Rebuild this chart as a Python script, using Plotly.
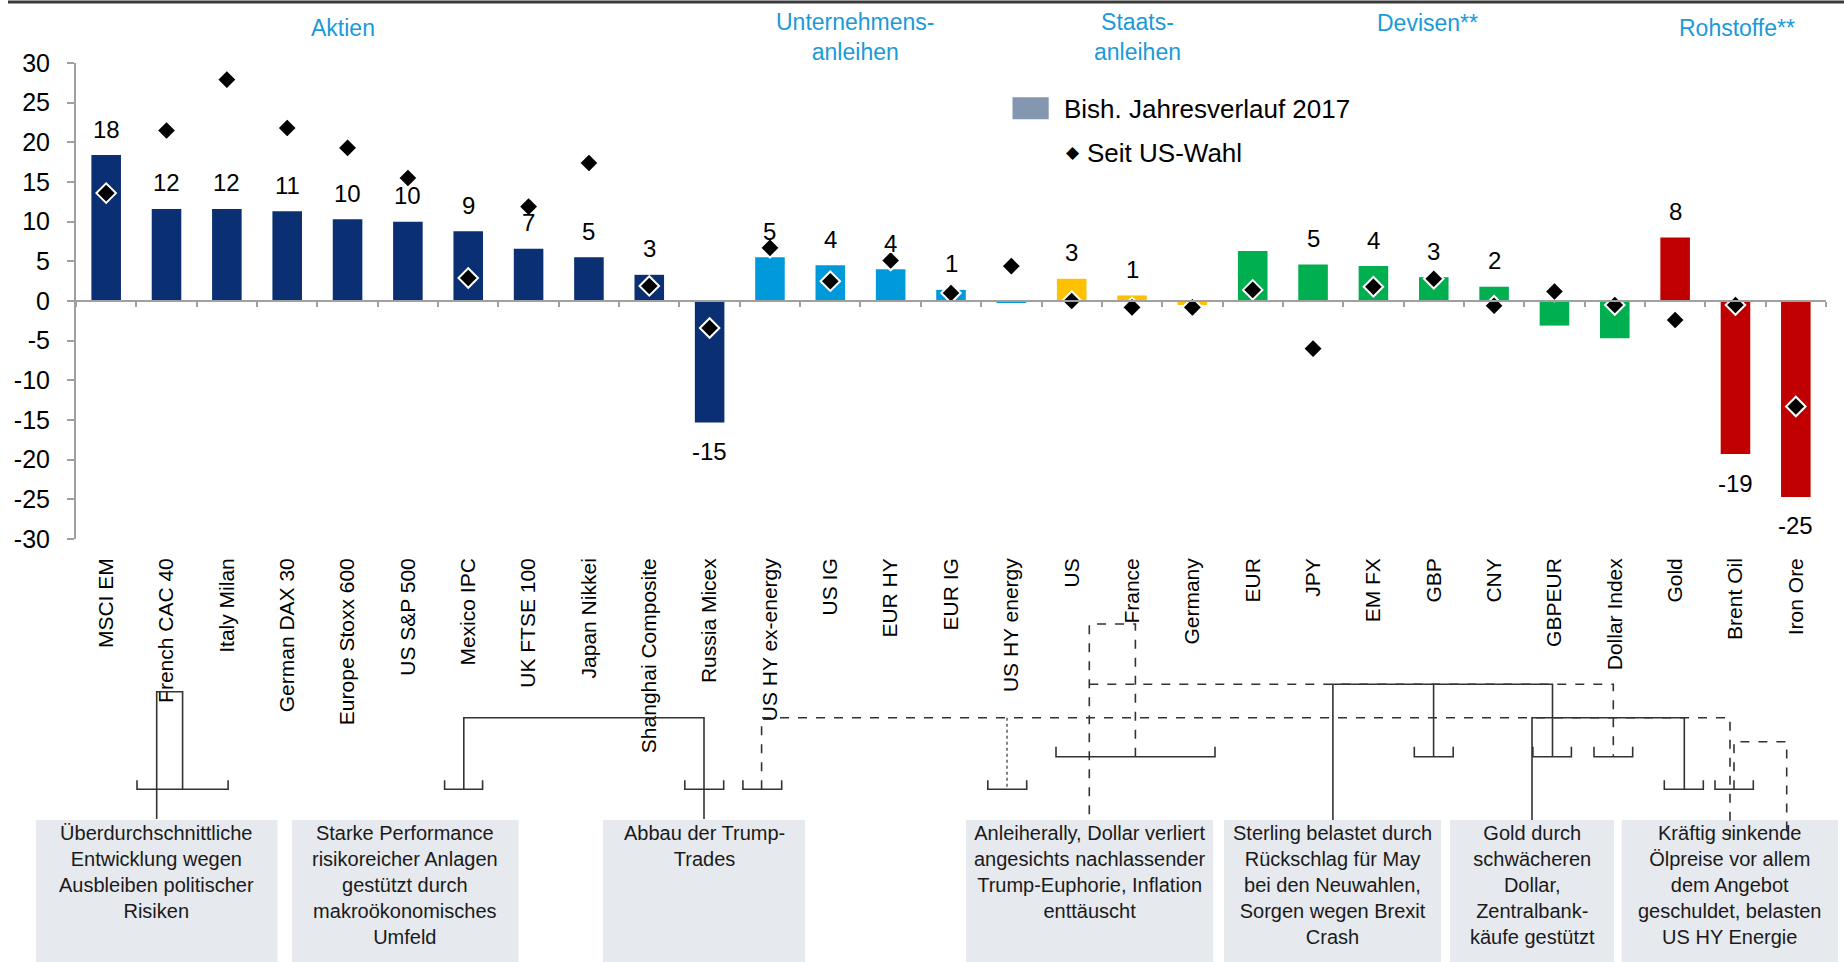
import plotly.graph_objects as go

# ---------------- data ----------------
categories = ["MSCI EM", "French CAC 40", "Italy Milan", "German DAX 30", "Europe Stoxx 600",
              "US S&P 500", "Mexico IPC", "UK FTSE 100", "Japan Nikkei", "Shanghai Composite",
              "Russia Micex", "US HY ex-energy", "US IG", "EUR HY", "EUR IG", "US HY energy",
              "US", "France", "Germany", "EUR", "JPY", "EM FX", "GBP", "CNY", "GBPEUR",
              "Dollar Index", "Gold", "Brent Oil", "Iron Ore"]
groups = (["Aktien"] * 11 + ["Unternehmensanleihen"] * 5 + ["Staatsanleihen"] * 3
          + ["Devisen"] * 7 + ["Rohstoffe"] * 3)
ytd_2017 = [18.4, 11.6, 11.6, 11.3, 10.3, 10.0, 8.8, 6.6, 5.5, 3.3, -15.3,
            5.5, 4.5, 4.0, 1.4, -0.2,
            2.8, 0.7, -0.5,
            6.3, 4.6, 4.4, 3.0, 1.8, -3.1, -4.7,
            8.0, -19.3, -24.7]
since_election = [13.6, 21.5, 27.9, 21.8, 19.3, 15.5, 2.9, 11.9, 17.4, 1.9, -3.4,
                  6.7, 2.5, 5.1, 1.0, 4.4,
                  0.0, -0.8, -0.8,
                  1.4, -6.0, 1.8, 2.8, -0.6, 1.2, -0.5,
                  -2.4, -0.5, -13.3]
bar_labels = ["18", "12", "12", "11", "10", "10", "9", "7", "5", "3", "-15",
              "5", "4", "4", "1", "",
              "3", "1", "",
              "", "5", "4", "3", "2", "", "",
              "8", "-19", "-25"]
y_ticks = [30, 25, 20, 15, 10, 5, 0, -5, -10, -15, -20, -25, -30]
y_tick_text = ["30", "25", "20", "15", "10", "5", "0", "-5", "-10", "-15", "-20", "-25", "-30"]

group_colors = {"Aktien": "#0B2F73", "Unternehmensanleihen": "#0099DA",
                "Staatsanleihen": "#FFC000", "Devisen": "#00B050", "Rohstoffe": "#C00000"}
header_texts = ["Aktien", "Unternehmens-<br>anleihen", "Staats-<br>anleihen", "Devisen**", "Rohstoffe**"]
legend_texts = ["Bish. Jahresverlauf 2017", "Seit US-Wahl"]
box_texts = [
    "Überdurchschnittliche<br>Entwicklung wegen<br>Ausbleiben politischer<br>Risiken",
    "Starke Performance<br>risikoreicher Anlagen<br>gestützt durch<br>makroökonomisches<br>Umfeld",
    "Abbau der Trump-<br>Trades",
    "Anleiherally, Dollar verliert<br>angesichts nachlassender<br>Trump-Euphorie, Inflation<br>enttäuscht",
    "Sterling belastet durch<br>Rückschlag für May<br>bei den Neuwahlen,<br>Sorgen wegen Brexit<br>Crash",
    "Gold durch<br>schwächeren<br>Dollar,<br>Zentralbank-<br>käufe gestützt",
    "Kräftig sinkende<br>Ölpreise vor allem<br>dem Angebot<br>geschuldet, belasten<br>US HY Energie",
]

# ---------------- layout geometry ----------------
W, H = 1844, 962
L, R, T, B = 76, 18, 63, 423
PW, PH = W - L - R, H - T - B
FONT = "Liberation Sans, Arial, sans-serif"


def px(x):
    return (x - L) / PW


def py(y):
    return (H - B - y) / PH


n = len(categories)
xs = list(range(n))
colors = [group_colors[g] for g in groups]

fig = go.Figure()
fig.add_trace(go.Bar(x=xs, y=ytd_2017, marker=dict(color=colors, line=dict(width=0)),
                     width=0.49, showlegend=False, hoverinfo="y"))
fig.add_trace(go.Scatter(x=xs, y=since_election, mode="markers", xaxis="x2", yaxis="y",
                         marker=dict(symbol="diamond", size=15, color="black",
                                     line=dict(color="white", width=2)),
                         showlegend=False, hoverinfo="y"))

annotations = []
# bar value labels
for i, (v, lab) in enumerate(zip(ytd_2017, bar_labels)):
    if lab:
        annotations.append(dict(x=i, y=v, xref="x", yref="y", text=lab, showarrow=False,
                                yanchor="middle", yshift=26 if v >= 0 else -29,
                                font=dict(size=24, color="black", family=FONT)))

# group headers
header_pos = [(343, 28), (855, 37), (1137, 37), (1427, 23), (1737, 28)]
for txt, (hx, hy) in zip(header_texts, header_pos):
    annotations.append(dict(x=px(hx), y=py(hy), xref="paper", yref="paper", text=txt,
                            showarrow=False, xanchor="center", yanchor="middle",
                            font=dict(size=23, color="#1A9AD9", family=FONT)))

# legend
shapes = []
shapes.append(dict(type="rect", xref="paper", yref="paper", x0=px(1012.5), x1=px(1048.7),
                   y0=py(119.3), y1=py(97.3), fillcolor="#8497B0", line=dict(width=0)))
annotations.append(dict(x=px(1062), y=py(108.5), xref="paper", yref="paper", text=legend_texts[0],
                        showarrow=False, xanchor="left", yanchor="middle",
                        font=dict(size=26, color="black", family=FONT)))
annotations.append(dict(x=px(1073), y=py(152), xref="paper", yref="paper", text="◆",
                        showarrow=False, xanchor="center", yanchor="middle",
                        font=dict(size=17, color="black", family="DejaVu Sans")))
annotations.append(dict(x=px(1085), y=py(152.5), xref="paper", yref="paper", text=legend_texts[1],
                        showarrow=False, xanchor="left", yanchor="middle",
                        font=dict(size=26, color="black", family=FONT)))

# text boxes
box_x = [(36, 277.5), (292, 518.6), (603, 805), (966, 1213), (1224, 1441), (1450, 1614), (1621.7, 1838)]
for (bx0, bx1), txt in zip(box_x, box_texts):
    shapes.append(dict(type="rect", xref="paper", yref="paper", x0=px(bx0), x1=px(bx1),
                       y0=py(962), y1=py(820), fillcolor="#E6E9ED", line=dict(width=0)))
    annotations.append(dict(x=px((bx0 + bx1) / 2), y=py(820.5), xref="paper", yref="paper",
                            text=txt, showarrow=False, xanchor="center", yanchor="top",
                            align="center", borderpad=0,
                            font=dict(size=20, color="#1A1A1A", family=FONT)))

LINE_C = "#333333"


def poly(points, dash="solid", width=1.6):
    path = "M " + " L ".join(f"{px(x):.5f},{py(y):.5f}" for x, y in points)
    shapes.append(dict(type="path", xref="paper", yref="paper", path=path,
                       line=dict(color=LINE_C, width=width, dash=dash)))


def bracket(x0, x1, y, h=9):
    poly([(x0, y - h), (x0, y), (x1, y), (x1, y - h)])


# brackets under categories
bracket(137, 228.1, 789.3)
bracket(444.6, 482.6, 789.3)
bracket(684.8, 723.7, 789.3)
bracket(742.9, 781.7, 789.3)
bracket(987.8, 1026.7, 789.3)
bracket(1056, 1215, 756.7, 10)
bracket(1414.3, 1453.2, 756.7, 10)
bracket(1532.9, 1571.4, 756.7, 10)
bracket(1594, 1632.7, 756.7, 10)
bracket(1664.3, 1703.3, 789.3)
bracket(1715, 1753.3, 789.3)

# connectors
poly([(156.7, 819), (156.7, 691.7), (182.6, 691.7), (182.6, 789.3)])
poly([(463.8, 789.3), (463.8, 717.7), (704, 717.7), (704, 819)])
poly([(761.6, 789.3), (761.6, 717.7), (1730, 717.7), (1730, 836)], dash="dash")
poly([(1007, 717.7), (1007, 789.3)], dash="dot", width=1.2)
poly([(1135.4, 756.7), (1135.4, 624), (1089.3, 624), (1089.3, 820)], dash="dash")
poly([(1089.3, 684.3), (1613.3, 684.3), (1613.3, 756.7)], dash="dash")
poly([(1332.9, 820), (1332.9, 684.3), (1552.5, 684.3), (1552.5, 756.7)])
poly([(1433.6, 684.3), (1433.6, 756.7)])
poly([(1532, 820), (1532, 717.7), (1684.3, 717.7), (1684.3, 789.3)])
poly([(1734, 789.3), (1734, 741.7), (1786.7, 741.7), (1786.7, 834)], dash="dash")

# top rule
shapes.append(dict(type="line", xref="paper", yref="paper", x0=px(8), x1=px(1844),
                   y0=py(2), y1=py(2), line=dict(color="#3A3A3A", width=3)))

fig.update_layout(
    width=W, height=H,
    margin=dict(l=L, r=R, t=T, b=B, pad=0),
    paper_bgcolor="white", plot_bgcolor="white",
    font=dict(family=FONT, color="black"),
    bargap=0.5,
    xaxis=dict(range=[-0.5, n - 0.5], tickvals=xs, ticktext=categories, tickangle=-90,
               showgrid=False, zeroline=False, showline=False, ticks="", automargin=False,
               ticklabelstandoff=14, tickfont=dict(size=21, color="black", family=FONT)),
    xaxis2=dict(range=[-0.5, n - 0.5], overlaying="x", anchor="free", position=0.5,
                showline=True, linecolor="#A0A0A0", linewidth=2, ticks="outside", ticklen=5,
                tickcolor="#A0A0A0", tickwidth=1.5,
                tickvals=[i - 0.5 for i in range(n + 1)], showticklabels=False,
                showgrid=False, zeroline=False, automargin=False),
    yaxis=dict(range=[-30, 30], tickvals=y_ticks, ticktext=y_tick_text, showgrid=False,
               zeroline=False, showline=True, linecolor="#A0A0A0", linewidth=2,
               ticks="outside", ticklen=7, tickcolor="#A0A0A0", tickwidth=1.5,
               ticklabelstandoff=12, automargin=False,
               tickfont=dict(size=25, color="black", family=FONT)),
    shapes=shapes,
    annotations=annotations,
)

fig.write_html("out.html")
